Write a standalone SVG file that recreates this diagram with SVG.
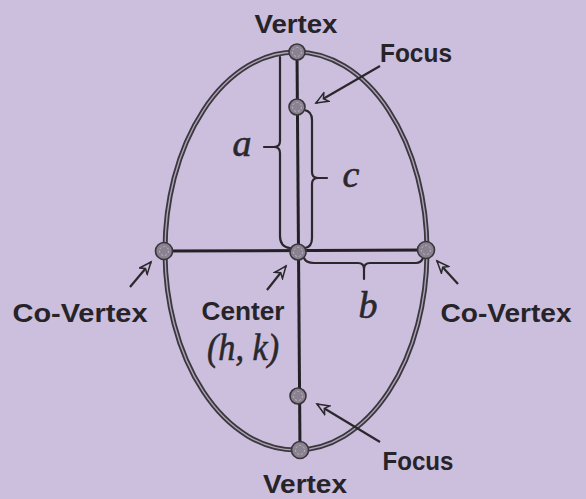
<svg xmlns="http://www.w3.org/2000/svg" width="586" height="499" viewBox="0 0 586 499">
<style>
.lbl{font-family:"Liberation Sans",Arial,sans-serif;font-weight:bold;font-size:26px;fill:#262428;text-anchor:middle}
.var{font-family:"Liberation Serif","Times New Roman",serif;font-style:italic;font-size:38px;fill:#2a282c;stroke:#2a282c;stroke-width:0.6;text-anchor:middle}
.axis{stroke:#232125;stroke-width:3;fill:none}
.brace{stroke:#2a282c;stroke-width:2.2;fill:none;stroke-linecap:round}
.arr{stroke:#2a282c;stroke-width:2.2;fill:none;marker-end:url(#ah)}
.dot{fill:#8a8290;stroke:#38353b;stroke-width:1.6}
.dotin{fill:none;stroke:#bdb3c4;stroke-width:1;stroke-dasharray:2 2}
</style>
<defs>
<marker id="ah" markerUnits="userSpaceOnUse" markerWidth="16" markerHeight="14" refX="13" refY="6" orient="auto">
<path d="M1,1 L13,6 L1,11 L4.5,6 Z" fill="#ccbedd" stroke="#2a282c" stroke-width="1.5" stroke-linejoin="miter"/>
</marker>
</defs>
<rect width="586" height="499" fill="#ccbedd"/>
<g id="ellipse">
<ellipse cx="296" cy="251" rx="131" ry="199" fill="none" stroke="#3a373d" stroke-width="5"/>
<ellipse cx="296" cy="251" rx="131" ry="199" fill="none" stroke="#ada1b8" stroke-width="1.4"/>
</g>
<g id="connectors">
<line class="axis" x1="297" y1="52" x2="300" y2="450"/>
<line class="axis" x1="163" y1="251" x2="426" y2="250"/>
<path class="brace" d="M280,57 V141 Q280,147 274,147 H264 M274,147 Q280,147 280,153 V236 Q280,247 290,248"/>
<path class="brace" d="M304,110 Q312,111 312,120 V172 Q312,178 318,178 H327 M318,178 Q312,178 312,184 V238 Q312,247 305,248"/>
<path class="brace" d="M304,258 Q306,263 314,263 H358 Q364,263 364,269 V279 M364,269 Q364,263 370,263 H416 Q421,263 423,258"/>
<line class="arr" x1="380" y1="66" x2="316" y2="103"/>
<line class="arr" x1="267" y1="290" x2="286" y2="266"/>
<line class="arr" x1="130" y1="287" x2="151" y2="262"/>
<line class="arr" x1="458" y1="284" x2="437" y2="261"/>
<line class="arr" x1="380" y1="442" x2="317" y2="404"/>
</g>
<g id="vertex-top"><circle class="dot" cx="297" cy="52" r="8"/><circle class="dotin" cx="297" cy="52" r="4.5"/><text class="lbl" x="296" y="33" textLength="83" lengthAdjust="spacingAndGlyphs">Vertex</text></g>
<g id="focus-top"><circle class="dot" cx="297" cy="107" r="8"/><circle class="dotin" cx="297" cy="107" r="4.5"/><text class="lbl" x="416" y="62" textLength="72" lengthAdjust="spacingAndGlyphs">Focus</text></g>
<g id="center"><circle class="dot" cx="298" cy="252" r="8"/><circle class="dotin" cx="298" cy="252" r="4.5"/><text class="lbl" x="243" y="320" textLength="83" lengthAdjust="spacingAndGlyphs">Center</text><text class="var" x="243" y="360" font-size="28" textLength="72" lengthAdjust="spacingAndGlyphs">(h, k)</text></g>
<g id="covertex-left"><circle class="dot" cx="164" cy="251" r="8.5"/><circle class="dotin" cx="164" cy="251" r="4.5"/><text class="lbl" x="80" y="322" textLength="135" lengthAdjust="spacingAndGlyphs">Co-Vertex</text></g>
<g id="covertex-right"><circle class="dot" cx="426" cy="250" r="8.5"/><circle class="dotin" cx="426" cy="250" r="4.5"/><text class="lbl" x="506" y="322" textLength="131" lengthAdjust="spacingAndGlyphs">Co-Vertex</text></g>
<g id="focus-bottom"><circle class="dot" cx="298" cy="396" r="8"/><circle class="dotin" cx="298" cy="396" r="4.5"/><text class="lbl" x="418" y="470" textLength="71" lengthAdjust="spacingAndGlyphs">Focus</text></g>
<g id="vertex-bottom"><circle class="dot" cx="300" cy="450" r="8.5"/><circle class="dotin" cx="300" cy="450" r="4.5"/><text class="lbl" x="305" y="493" textLength="84" lengthAdjust="spacingAndGlyphs">Vertex</text></g>
<g id="labels">
<text class="var" x="242" y="156">a</text>
<text class="var" x="351" y="187">c</text>
<text class="var" x="368" y="318">b</text>
</g>
</svg>
